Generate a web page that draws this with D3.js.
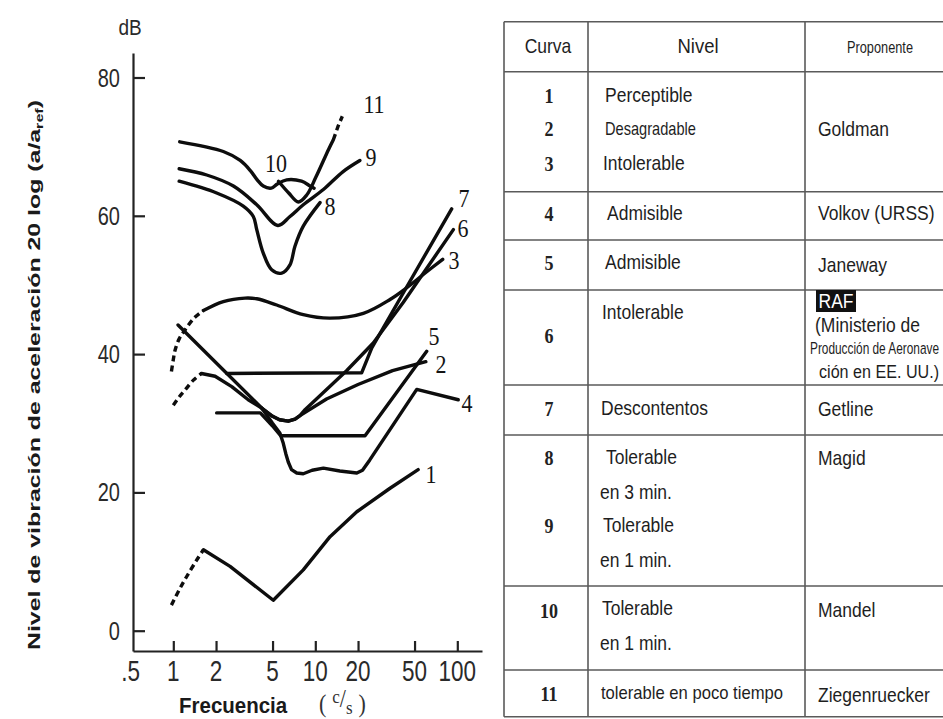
<!DOCTYPE html>
<html>
<head>
<meta charset="utf-8">
<script src="https://cdn.jsdelivr.net/npm/d3@7"></script>
<style>
  html, body { margin: 0; padding: 0; background: #fff; }
  svg { display: block; }
</style>
</head>
<body>
<svg id="chart" width="943" height="719"></svg>
<script>
// ---------- curve data: [frequency (c/s), level (dB)] ----------
const curve1Dashed = [[0.97, 3.7], [1.1, 5.9], [1.24, 7.8], [1.46, 10.2], [1.63, 11.7]];
const curve1 = [[1.63, 11.7], [2.51, 9.3], [5.06, 4.4], [8.23, 8.8], [12.7, 13.6], [19.6, 17.2], [33.6, 20.6], [53.0, 23.3]];

const curve2Dashed = [[1.0, 32.6], [1.1, 33.8], [1.21, 34.8], [1.38, 36.2], [1.58, 37.2]];
const curve2 = [[1.58, 37.2], [1.97, 36.8], [2.58, 35.3], [3.37, 33.4], [4.19, 32.2], [5.0, 31.0], [5.6, 30.5], [6.45, 30.3], [7.2, 30.6], [7.8, 31.1], [12, 33.5], [20, 35.6], [35, 37.6], [60, 38.9]];

const curve3Dashed = [[0.97, 37.5], [1.0, 39.2], [1.03, 40.6], [1.1, 42.2], [1.21, 43.5], [1.4, 45.2], [1.63, 46.3]];
const curve3 = [[1.63, 46.3], [2.25, 47.6], [3.2, 48.1], [3.87, 48.0], [5.35, 47.1], [8.23, 45.7], [12.7, 45.2], [21.8, 45.9], [33.6, 47.9], [44.1, 49.6], [60, 51.8], [78.9, 53.7]];

const curve4 = [[4.19, 32.2], [5.0, 30.0], [5.63, 28.6], [5.95, 27.1], [6.2, 25.6], [6.45, 24.4], [6.8, 23.3], [7.4, 22.8], [8.23, 22.7], [9.5, 23.2], [11.4, 23.5], [14.9, 23.1], [19.6, 22.8], [21.5, 23.2], [24.2, 24.7], [51.8, 34.9], [101.6, 33.4]];

const curve5 = [[2.02, 31.5], [4.1, 31.5], [5.0, 29.6], [5.7, 28.2], [22.4, 28.2], [60.9, 40.4]];

const curve6 = [[1.08, 44.2], [4.19, 32.2], [5.0, 31.0], [5.6, 30.5], [6.45, 30.3], [7.2, 30.6], [7.8, 31.1], [8.5, 32.0], [16.6, 37.6], [25.6, 41.6], [41.7, 47.5], [93.8, 58.0]];

const curve7 = [[2.38, 37.2], [21.2, 37.3], [25.0, 40.9], [44, 49.7], [91.3, 61.0]];

const curve8 = [[1.10, 65.0], [2.02, 63.3], [3.11, 61.4], [3.66, 59.9], [3.87, 58.0], [4.30, 54.6], [4.93, 52.2], [5.80, 51.7], [6.63, 52.9], [7.19, 55.6], [8.23, 58.5], [10.8, 61.9]];

const curve9 = [[1.10, 66.8], [1.72, 65.9], [2.65, 64.3], [3.87, 61.6], [5.45, 58.6], [6.63, 59.9], [8.23, 61.6], [11.4, 63.8], [15.7, 66.4], [20.6, 68.0]];

const curve10 = [[1.11, 70.7], [2.25, 69.3], [2.96, 68.0], [3.5, 66.5], [3.9, 65.2], [4.3, 64.3], [4.9, 64.0], [5.4, 64.6], [6.29, 65.2], [8.0, 65.0], [9.2, 64.3], [9.8, 64.0]];

const curve11 = [[5.5, 65.0], [6.5, 63.3], [7.6, 62.0], [8.7, 63.0], [10.1, 65.6], [12.4, 69.6], [13.4, 71.0]];
const curve11Dashed = [[13.4, 71.0], [14.5, 73.0], [15.5, 74.4]];

// curve numbers and where they are written: [frequency, dB]
const curveIds = ["1", "2", "3", "4", "5", "6", "7", "8", "9", "10", "11"];
const curveLabelAt = [[65.3, 22.5], [76.8, 38.5], [94.8, 53.5], [117, 32.8], [68.5, 42.5], [109.7, 58.1], [111.5, 62.5], [12.7, 61.3], [24.7, 68.4], [5.29, 67.6], [25.9, 76.1]];

// axes
const yTicks = [0, 20, 40, 60, 80];
const xTicks = [1, 2, 5, 10, 20, 50, 100];
const xLabelValues = [0.5, 1, 2, 5, 10, 20, 50, 100];
const xLabelTexts = [".5", "1", "2", "5", "10", "20", "50", "100"];

// table contents
const tableCurva = ["1", "2", "3", "4", "5", "6", "7", "8", "9", "10", "11"];
const tableNivel = ["Perceptible", "Desagradable", "Intolerable", "Admisible", "Admisible", "Intolerable", "Descontentos",
                    "Tolerable", "en 3 min.", "Tolerable", "en 1 min.", "Tolerable", "en 1 min.", "tolerable en poco tiempo"];
const tableProponente = ["Goldman", "Volkov (URSS)", "Janeway", "RAF", "(Ministerio de", "Producción de Aeronave",
                         "ción en EE. UU.)", "Getline", "Magid", "Mandel", "Ziegenruecker"];

// ---------- drawing ----------
const svg = d3.select("#chart");
svg.append("rect").attr("width", 943).attr("height", 719).attr("fill", "#fff");

const x = d3.scaleLog().domain([1, 100]).range([173.3, 457.3]);
const y = d3.scaleLinear().domain([0, 80]).range([630.7, 77.5]);

const SANS = "'Liberation Sans', Arial, Helvetica, sans-serif";
const SERIF = "'Liberation Serif', 'Times New Roman', serif";

// text that is slightly taller than its font
function stretchText(g, px, py, str, size, k, opts = {}) {
  const t = g.append("text")
    .attr("transform", `translate(${px},${py}) scale(1,${k})`)
    .attr("x", 0).attr("y", 0)
    .attr("font-family", opts.family || SANS)
    .attr("font-size", size)
    .attr("font-weight", opts.weight || "normal")
    .attr("fill", opts.fill || "#1e1e1e")
    .attr("text-anchor", opts.anchor || "start")
    .attr("dominant-baseline", opts.baseline || "central")
    .text(str);
  if (opts.length) t.attr("textLength", opts.length).attr("lengthAdjust", "spacingAndGlyphs");
  return t;
}

const plot = svg.append("g");

// axes (extended a little past the first/last ticks, as drawn)
const axisX0 = 133, axisY0 = 651;
const yAxisScale = y.copy().domain([y.invert(axisY0), y.invert(53)]).range([axisY0, 53]);
const xAxisScale = x.copy().domain([x.invert(axisX0), x.invert(482)]).range([axisX0, 482]);

const yAxis = plot.append("g").attr("transform", `translate(${axisX0},0)`)
  .call(d3.axisLeft(yAxisScale).tickValues(yTicks).tickSize(-12).tickSizeOuter(0).tickFormat(""));
const xAxis = plot.append("g").attr("transform", `translate(0,${axisY0})`)
  .call(d3.axisBottom(xAxisScale).tickValues(xTicks).tickSize(-10).tickSizeOuter(0).tickFormat(""));
[yAxis, xAxis].forEach(a => {
  a.select(".domain").attr("stroke", "#222").attr("stroke-width", 2.2);
  a.selectAll(".tick line").attr("stroke", "#222").attr("stroke-width", 2.2);
});

// tick labels
yTicks.forEach(v => stretchText(plot, 120, y(v), String(v), 20, 1.33, { anchor: "end", fill: "#2a2a2a" }));
xLabelValues.forEach((v, i) => stretchText(plot, x(v), 671, xLabelTexts[i], 22.5, 1.3, { anchor: "middle", fill: "#2a2a2a" }));

stretchText(plot, 130, 27, "dB", 19, 1.2, { anchor: "middle", fill: "#2a2a2a" });

// y title (rotated)
const yTitle = plot.append("text")
  .attr("transform", "translate(40,375) rotate(-90)")
  .attr("text-anchor", "middle")
  .attr("font-family", SANS).attr("font-weight", "bold").attr("font-size", 17)
  .attr("fill", "#1a1a1a")
  .attr("textLength", 550).attr("lengthAdjust", "spacingAndGlyphs");
yTitle.append("tspan").text("Nivel de vibración de aceleración 20 log (a/a");
yTitle.append("tspan").attr("font-size", 11).attr("dy", 3).text("ref");
yTitle.append("tspan").attr("dy", -3).text(")");

// x title
stretchText(plot, 179, 713, "Frecuencia", 20.5, 1.12, { weight: "bold", baseline: "alphabetic", fill: "#1a1a1a" });
const cs = plot.append("text").attr("transform", "translate(319,712) scale(1,1.1)")
  .attr("font-family", SERIF).attr("font-size", 22).attr("fill", "#333");
cs.append("tspan").text("(");
cs.append("tspan").attr("dx", 6).attr("dy", -8).attr("font-size", 17).text("c");
cs.append("tspan").attr("dy", 3).attr("font-size", 22).text("/");
cs.append("tspan").attr("dy", 7).attr("font-size", 17).text("s");
cs.append("tspan").attr("dx", 6).attr("dy", -2).text(")");

// curves
const lineLin = d3.line().x(d => x(d[0])).y(d => y(d[1])).curve(d3.curveLinear);
const lineSmooth = d3.line().x(d => x(d[0])).y(d => y(d[1])).curve(d3.curveCatmullRom.alpha(0.5));

const curves = [
  { pts: curve1, gen: lineLin }, { pts: curve1Dashed, gen: lineSmooth, dashed: true },
  { pts: curve2, gen: lineLin }, { pts: curve2Dashed, gen: lineSmooth, dashed: true },
  { pts: curve3, gen: lineSmooth }, { pts: curve3Dashed, gen: lineSmooth, dashed: true },
  { pts: curve4, gen: lineLin },
  { pts: curve5, gen: lineLin },
  { pts: curve6, gen: lineLin },
  { pts: curve7, gen: lineLin },
  { pts: curve8, gen: lineSmooth },
  { pts: curve9, gen: lineSmooth },
  { pts: curve10, gen: lineSmooth },
  { pts: curve11, gen: lineSmooth }, { pts: curve11Dashed, gen: lineLin, dashed: true }
];

plot.append("g").selectAll("path").data(curves).join("path")
  .attr("d", d => d.gen(d.pts))
  .attr("fill", "none")
  .attr("stroke", "#0d0d0d")
  .attr("stroke-width", 3.4)
  .attr("stroke-linejoin", "round")
  .attr("stroke-linecap", d => d.dashed ? "butt" : "round")
  .attr("stroke-dasharray", d => d.dashed ? "6,4" : null);

// curve numbers
curveIds.forEach((id, i) => {
  const [f, db] = curveLabelAt[i];
  stretchText(plot, x(f), y(db), id, 22, 1.1, { anchor: "middle", family: SERIF, fill: "#141414" });
});

// ---------- table ----------
const tbl = svg.append("g");
const gridColor = "#5a5a5a";
const tLeft = 504, tRight = 943, colA = 588, colB = 805;
const hLines = [21.7, 71.7, 191.7, 240, 290, 385, 435, 586, 670, 716.7];

hLines.forEach(yy => tbl.append("line").attr("x1", tLeft).attr("x2", tRight).attr("y1", yy).attr("y2", yy)
  .attr("stroke", gridColor).attr("stroke-width", 1.6));
[tLeft, colA, colB].forEach(xx => tbl.append("line").attr("x1", xx).attr("x2", xx)
  .attr("y1", hLines[0]).attr("y2", hLines[hLines.length - 1])
  .attr("stroke", gridColor).attr("stroke-width", 1.6));

// header
stretchText(tbl, 548, 46, "Curva", 17.5, 1.12, { anchor: "middle" });
stretchText(tbl, 698, 46, "Nivel", 18.5, 1.12, { anchor: "middle" });
stretchText(tbl, 880, 47, "Proponente", 13, 1.3, { anchor: "middle", length: 66 });

// Curva column
const curvaY = [95, 128.5, 163, 213, 262, 335, 408, 457, 525, 610, 693];
tableCurva.forEach((c, i) => stretchText(tbl, 549, curvaY[i], c, 18, 1.18, { anchor: "middle", family: SERIF, weight: "bold", fill: "#222" }));

// Nivel column
const nivelPos = [[605, 95], [605, 128.5], [603, 163], [607, 213], [605, 262], [602, 312], [601, 408],
                  [606, 457], [600, 492], [603, 525], [600, 560], [602, 608], [600, 643], [601, 693]];
tableNivel.forEach((s, i) => {
  const [px, py] = nivelPos[i];
  if (s === "Desagradable") stretchText(tbl, px, py, s, 15, 1.25, { length: 91 });
  else if (s.startsWith("tolerable en")) stretchText(tbl, px, py, s, 16.5, 1.15, { length: 182 });
  else stretchText(tbl, px, py, s, 17.5, 1.12);
});

// Proponente column
const propPos = [[818, 129], [818, 213], [818, 265], [836, 301], [815, 325], [810, 348.5], [819, 372],
                 [818, 409], [818, 458], [818, 610], [818, 695]];
tableProponente.forEach((s, i) => {
  const [px, py] = propPos[i];
  if (s === "RAF") {
    tbl.append("rect").attr("x", 816).attr("y", 290).attr("width", 40).attr("height", 22).attr("fill", "#111");
    stretchText(tbl, px, py, s, 17.5, 1.12, { anchor: "middle", fill: "#fff" });
  } else if (s.startsWith("Producción")) {
    stretchText(tbl, px, py, s, 12, 1.4, { length: 129 });
  } else if (s.startsWith("ción")) {
    stretchText(tbl, px, py, s, 16, 1.18, { length: 120 });
  } else {
    stretchText(tbl, px, py, s, 17.5, 1.12);
  }
});
</script>
</body>
</html>
